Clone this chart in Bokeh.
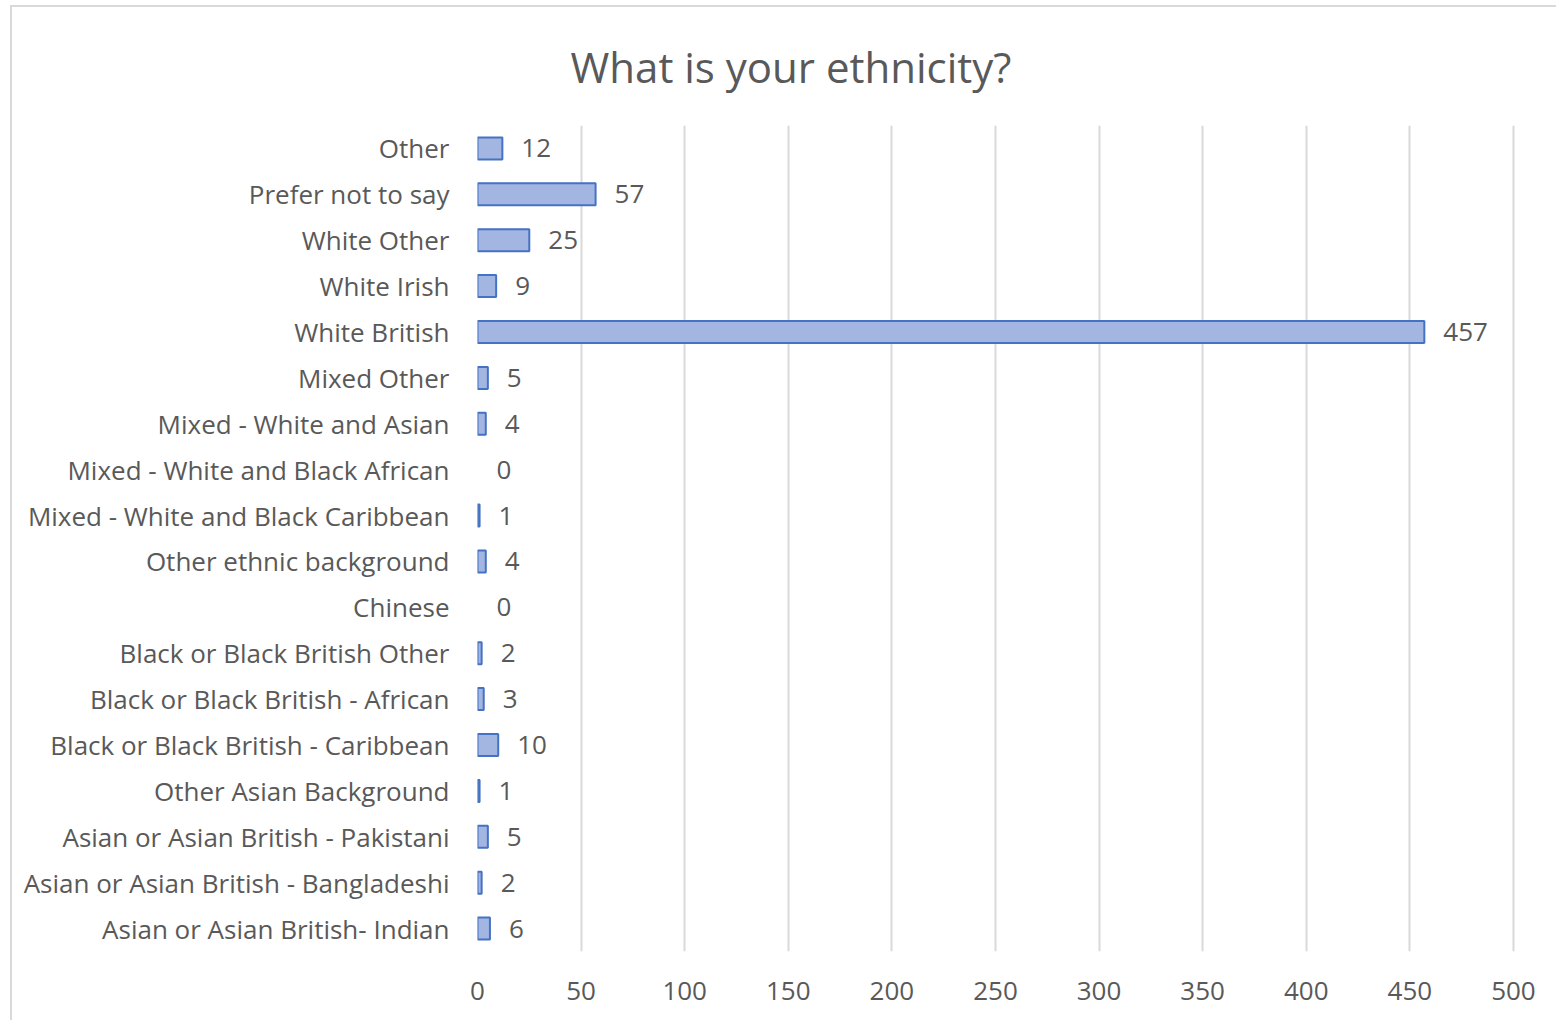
from bokeh.plotting import figure
from bokeh.models import Range1d, FactorRange, SingleIntervalTicker, ColumnDataSource
from bokeh.core.properties import value
from bokeh.embed import file_html
from bokeh.resources import INLINE

title_text = "What is your ethnicity?"

categories = [
    "Asian or Asian British- Indian",
    "Asian or Asian British - Bangladeshi",
    "Asian or Asian British - Pakistani",
    "Other Asian Background",
    "Black or Black British - Caribbean",
    "Black or Black British - African",
    "Black or Black British Other",
    "Chinese",
    "Other ethnic background",
    "Mixed - White and Black Caribbean",
    "Mixed - White and Black African",
    "Mixed - White and Asian",
    "Mixed Other",
    "White British",
    "White Irish",
    "White Other",
    "Prefer not to say",
    "Other",
]
counts = [6, 2, 5, 1, 10, 3, 2, 0, 4, 1, 0, 4, 5, 457, 9, 25, 57, 12]

FONT = "Open Sans"
TEXT_COLOR = "#595959"

p = figure(
    width=1546, height=1015,
    y_range=FactorRange(*categories),
    x_range=Range1d(0, 501),
    output_backend="svg", toolbar_location=None,
    min_border_left=465, min_border_right=43,
    min_border_top=118, min_border_bottom=71,
    title=title_text,
)
p.styles = {"margin-left": "10px", "margin-top": "5px",
            "border-left": "2px solid #d9d9d9", "border-top": "2px solid #d9d9d9"}
p.outline_line_color = None

p.title.align = "left"
p.title.vertical_align = "top"
p.title.offset = 93
p.title.standoff = 58
p.title.text_font = FONT
p.title.text_font_size = "42px"
p.title.text_font_style = "normal"
p.title.text_color = TEXT_COLOR

bar_src = ColumnDataSource(dict(
    cat=[c for c, v in zip(categories, counts) if v > 0],
    val=[v for v in counts if v > 0],
))
p.hbar(y="cat", left=0, right="val", height=0.48, source=bar_src,
       fill_color="#a3b5e1", line_color="#4472c4", line_width=2)

lab_src = ColumnDataSource(dict(cat=categories, val=counts, txt=[str(v) for v in counts]))
p.text(x="val", y="cat", text="txt", source=lab_src, x_offset=19,
       text_baseline="middle", text_align="left",
       text_font=value(FONT), text_font_size="26px", text_color=TEXT_COLOR)

ticker = SingleIntervalTicker(interval=50)
p.xaxis.ticker = ticker
p.xgrid.ticker = ticker
p.xgrid.grid_line_color = "#d9d9d9"
p.xgrid.grid_line_width = 2
p.ygrid.grid_line_color = None

for ax in (p.xaxis[0], p.yaxis[0]):
    ax.axis_line_color = None
    ax.major_tick_line_color = None
    ax.minor_tick_line_color = None
    ax.major_label_text_font = FONT
    ax.major_label_text_font_size = "26px"
    ax.major_label_text_color = TEXT_COLOR
p.xaxis.major_label_standoff = 24
p.yaxis.major_label_standoff = 22

open("out.html", "w").write(file_html(p, INLINE))
